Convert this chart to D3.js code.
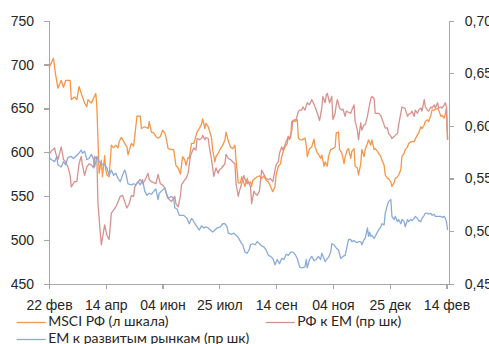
<!DOCTYPE html>
<html>
<head>
<meta charset="utf-8">
<script src="https://cdn.jsdelivr.net/npm/d3@7"></script>
<style>
  html, body { margin: 0; padding: 0; background: #fff; }
  svg { display: block; font-family: Lato, "Noto Sans", sans-serif; }
  .axis text, .legend text { font-size: 14px; fill: #262626; font-feature-settings: "onum" 1; }
  .axis path, .axis line { stroke: #a6a6a6; stroke-width: 1.3; shape-rendering: crispEdges; }
</style>
</head>
<body>
<svg id="chart" width="489" height="344"></svg>
<script>
// MSCI Russia index, left scale
const msciRussia = [
  ["2018-02-22",696],["2018-02-26",707],["2018-02-28",688],["2018-03-02",673],["2018-03-05",682],
  ["2018-03-07",674],["2018-03-09",682],["2018-03-13",682],["2018-03-14",660],["2018-03-17",663],
  ["2018-03-19",660],["2018-03-21",675],["2018-03-23",667],["2018-03-26",656],["2018-03-28",652],
  ["2018-03-29",660],["2018-04-01",656],["2018-04-05",667],["2018-04-06",652],["2018-04-08",576],
  ["2018-04-10",591],["2018-04-11",572],["2018-04-13",596],["2018-04-14",580],["2018-04-15",574],
  ["2018-04-17",572],["2018-04-19",608],["2018-04-21",605],["2018-04-23",608],["2018-04-25",605],
  ["2018-04-26",612],["2018-04-28",617],["2018-05-01",610],["2018-05-03",606],["2018-05-04",597],
  ["2018-05-06",606],["2018-05-07",610],["2018-05-09",607],["2018-05-10",618],["2018-05-12",641],
  ["2018-05-15",641],["2018-05-16",627],["2018-05-19",629],["2018-05-22",627],["2018-05-23",635],
  ["2018-05-25",623],["2018-05-27",622],["2018-05-29",618],["2018-05-31",616],["2018-06-02",618],
  ["2018-06-04",625],["2018-06-06",622],["2018-06-07",618],["2018-06-09",604],["2018-06-12",603],
  ["2018-06-14",603],["2018-06-16",585],["2018-06-18",582],["2018-06-20",575],["2018-06-22",595],
  ["2018-06-24",591],["2018-06-25",585],["2018-06-27",594],["2018-06-28",593],["2018-06-30",610],
  ["2018-07-02",610],["2018-07-03",614],["2018-07-05",623],["2018-07-07",627],["2018-07-09",632],
  ["2018-07-10",638],["2018-07-12",627],["2018-07-13",633],["2018-07-15",629],["2018-07-16",625],
  ["2018-07-18",616],["2018-07-19",603],["2018-07-21",589],["2018-07-22",595],["2018-07-24",599],
  ["2018-07-26",604],["2018-07-28",608],["2018-07-30",614],["2018-07-31",623],["2018-08-02",613],
  ["2018-08-04",606],["2018-08-06",604],["2018-08-08",608],["2018-08-09",591],["2018-08-11",565],
  ["2018-08-13",565],["2018-08-14",572],["2018-08-16",565],["2018-08-17",561],["2018-08-19",570],
  ["2018-08-20",565],["2018-08-22",566],["2018-08-23",561],["2018-08-24",568],["2018-08-26",570],
  ["2018-08-28",572],["2018-08-30",573],["2018-09-01",570],["2018-09-03",573],["2018-09-05",568],
  ["2018-09-07",566],["2018-09-09",561],["2018-09-11",555],["2018-09-13",561],["2018-09-14",574],
  ["2018-09-16",584],["2018-09-18",587],["2018-09-19",595],["2018-09-21",603],["2018-09-22",606],
  ["2018-09-24",610],["2018-09-25",618],["2018-09-27",616],["2018-09-28",635],["2018-09-30",636],
  ["2018-10-01",635],["2018-10-03",637],["2018-10-04",616],["2018-10-06",614],["2018-10-07",614],
  ["2018-10-10",616],["2018-10-11",608],["2018-10-12",595],["2018-10-14",604],["2018-10-16",606],
  ["2018-10-18",615],["2018-10-19",606],["2018-10-21",599],["2018-10-22",598],["2018-10-24",593],
  ["2018-10-25",597],["2018-10-27",584],["2018-10-28",589],["2018-10-30",584],["2018-10-31",595],
  ["2018-11-02",603],["2018-11-04",604],["2018-11-06",606],["2018-11-07",622],["2018-11-09",623],
  ["2018-11-10",603],["2018-11-12",599],["2018-11-14",587],["2018-11-15",595],["2018-11-17",603],
  ["2018-11-18",604],["2018-11-20",593],["2018-11-21",601],["2018-11-23",604],["2018-11-24",584],
  ["2018-11-26",582],["2018-11-27",574],["2018-11-29",587],["2018-11-30",603],["2018-12-02",595],
  ["2018-12-03",603],["2018-12-05",610],["2018-12-06",614],["2018-12-08",608],["2018-12-09",614],
  ["2018-12-11",603],["2018-12-12",604],["2018-12-14",601],["2018-12-15",599],["2018-12-17",595],
  ["2018-12-18",591],["2018-12-20",585],["2018-12-21",574],["2018-12-23",570],["2018-12-24",570],
  ["2018-12-26",566],["2018-12-27",561],["2018-12-29",565],["2018-12-30",570],["2019-01-01",572],
  ["2019-01-02",574],["2019-01-04",580],["2019-01-05",595],["2019-01-07",599],["2019-01-08",603],
  ["2019-01-10",606],["2019-01-11",610],["2019-01-13",612],["2019-01-14",612],["2019-01-16",612],
  ["2019-01-17",615],["2019-01-19",620],["2019-01-20",622],["2019-01-22",629],["2019-01-23",627],
  ["2019-01-25",631],["2019-01-26",635],["2019-01-28",637],["2019-01-29",635],["2019-01-31",642],
  ["2019-02-01",648],["2019-02-03",648],["2019-02-04",649],["2019-02-06",650],["2019-02-07",648],
  ["2019-02-09",641],["2019-02-10",642],["2019-02-12",639],["2019-02-13",644],["2019-02-14",650],
  ["2019-02-15",614]
];

// Russia relative to EM, right scale
const russiaVsEm = [
  ["2018-02-22",0.573],["2018-02-24",0.576],["2018-02-27",0.579],["2018-02-28",0.574],["2018-03-02",0.568],
  ["2018-03-05",0.580],["2018-03-07",0.568],["2018-03-09",0.566],["2018-03-11",0.561],["2018-03-13",0.553],
  ["2018-03-14",0.542],["2018-03-17",0.547],["2018-03-19",0.547],["2018-03-21",0.564],["2018-03-23",0.571],
  ["2018-03-24",0.563],["2018-03-26",0.553],["2018-03-28",0.561],["2018-03-30",0.564],["2018-04-01",0.563],
  ["2018-04-03",0.560],["2018-04-04",0.571],["2018-04-06",0.568],["2018-04-07",0.526],["2018-04-09",0.499],
  ["2018-04-10",0.487],["2018-04-13",0.506],["2018-04-15",0.496],["2018-04-17",0.492],["2018-04-19",0.517],
  ["2018-04-21",0.520],["2018-04-23",0.523],["2018-04-25",0.528],["2018-04-27",0.533],["2018-04-29",0.534],
  ["2018-05-01",0.528],["2018-05-03",0.522],["2018-05-05",0.526],["2018-05-07",0.534],["2018-05-09",0.533],
  ["2018-05-10",0.542],["2018-05-13",0.547],["2018-05-15",0.549],["2018-05-17",0.545],["2018-05-19",0.548],
  ["2018-05-22",0.555],["2018-05-23",0.549],["2018-05-25",0.547],["2018-05-27",0.546],["2018-05-29",0.545],
  ["2018-05-31",0.554],["2018-06-02",0.545],["2018-06-04",0.544],["2018-06-06",0.541],["2018-06-08",0.533],
  ["2018-06-10",0.530],["2018-06-12",0.528],["2018-06-15",0.533],["2018-06-16",0.526],["2018-06-18",0.523],
  ["2018-06-20",0.533],["2018-06-21",0.544],["2018-06-24",0.549],["2018-06-25",0.550],["2018-06-27",0.555],
  ["2018-06-29",0.571],["2018-06-30",0.574],["2018-07-02",0.579],["2018-07-04",0.577],["2018-07-05",0.588],
  ["2018-07-07",0.587],["2018-07-09",0.588],["2018-07-10",0.591],["2018-07-12",0.587],["2018-07-13",0.589],
  ["2018-07-15",0.588],["2018-07-16",0.580],["2018-07-18",0.568],["2018-07-20",0.552],["2018-07-22",0.560],
  ["2018-07-24",0.555],["2018-07-25",0.558],["2018-07-27",0.560],["2018-07-30",0.564],["2018-07-31",0.573],
  ["2018-08-02",0.569],["2018-08-04",0.568],["2018-08-06",0.566],["2018-08-08",0.564],["2018-08-09",0.545],
  ["2018-08-11",0.533],["2018-08-12",0.538],["2018-08-14",0.545],["2018-08-16",0.553],["2018-08-17",0.549],
  ["2018-08-19",0.545],["2018-08-20",0.547],["2018-08-22",0.542],["2018-08-23",0.526],["2018-08-25",0.538],
  ["2018-08-26",0.536],["2018-08-28",0.534],["2018-08-30",0.538],["2018-09-01",0.558],["2018-09-03",0.554],
  ["2018-09-05",0.550],["2018-09-07",0.549],["2018-09-09",0.550],["2018-09-11",0.547],["2018-09-13",0.558],
  ["2018-09-14",0.563],["2018-09-16",0.566],["2018-09-17",0.574],["2018-09-19",0.580],["2018-09-20",0.577],
  ["2018-09-22",0.582],["2018-09-23",0.585],["2018-09-25",0.590],["2018-09-26",0.587],["2018-09-28",0.595],
  ["2018-09-29",0.605],["2018-10-01",0.606],["2018-10-02",0.606],["2018-10-04",0.614],["2018-10-05",0.615],
  ["2018-10-07",0.615],["2018-10-08",0.618],["2018-10-10",0.615],["2018-10-11",0.619],["2018-10-12",0.622],
  ["2018-10-14",0.620],["2018-10-16",0.625],["2018-10-17",0.623],["2018-10-19",0.618],["2018-10-21",0.612],
  ["2018-10-23",0.605],["2018-10-25",0.617],["2018-10-26",0.628],["2018-10-28",0.622],["2018-10-29",0.629],
  ["2018-10-30",0.631],["2018-11-01",0.622],["2018-11-03",0.628],["2018-11-04",0.606],["2018-11-06",0.612],
  ["2018-11-07",0.620],["2018-11-08",0.625],["2018-11-10",0.617],["2018-11-12",0.615],["2018-11-13",0.616],
  ["2018-11-15",0.609],["2018-11-16",0.614],["2018-11-18",0.613],["2018-11-20",0.612],["2018-11-21",0.615],
  ["2018-11-23",0.620],["2018-11-24",0.604],["2018-11-26",0.596],["2018-11-27",0.587],["2018-11-29",0.603],
  ["2018-11-30",0.596],["2018-12-02",0.601],["2018-12-03",0.601],["2018-12-05",0.609],["2018-12-06",0.615],
  ["2018-12-08",0.626],["2018-12-09",0.628],["2018-12-11",0.626],["2018-12-12",0.612],["2018-12-14",0.612],
  ["2018-12-15",0.612],["2018-12-17",0.610],["2018-12-18",0.607],["2018-12-20",0.601],["2018-12-21",0.598],
  ["2018-12-23",0.598],["2018-12-24",0.593],["2018-12-26",0.590],["2018-12-27",0.588],["2018-12-29",0.590],
  ["2018-12-30",0.591],["2019-01-01",0.593],["2019-01-02",0.601],["2019-01-04",0.612],["2019-01-05",0.618],
  ["2019-01-07",0.617],["2019-01-08",0.616],["2019-01-10",0.609],["2019-01-11",0.611],["2019-01-13",0.612],
  ["2019-01-14",0.614],["2019-01-16",0.609],["2019-01-17",0.615],["2019-01-19",0.612],["2019-01-20",0.615],
  ["2019-01-22",0.617],["2019-01-23",0.614],["2019-01-25",0.625],["2019-01-26",0.618],["2019-01-28",0.615],
  ["2019-01-29",0.614],["2019-01-31",0.618],["2019-02-01",0.617],["2019-02-03",0.620],["2019-02-04",0.617],
  ["2019-02-06",0.622],["2019-02-07",0.617],["2019-02-09",0.618],["2019-02-10",0.617],["2019-02-12",0.620],
  ["2019-02-13",0.622],["2019-02-14",0.618],["2019-02-15",0.587]
];

// EM relative to developed markets, right scale
const emVsDeveloped = [
  ["2018-02-22",0.570],["2018-02-24",0.568],["2018-02-27",0.566],["2018-03-01",0.571],["2018-03-02",0.563],
  ["2018-03-05",0.561],["2018-03-07",0.566],["2018-03-09",0.563],["2018-03-11",0.570],["2018-03-14",0.571],
  ["2018-03-16",0.569],["2018-03-18",0.571],["2018-03-20",0.573],["2018-03-23",0.577],["2018-03-24",0.574],
  ["2018-03-26",0.576],["2018-03-28",0.568],["2018-03-30",0.569],["2018-04-01",0.573],["2018-04-03",0.568],
  ["2018-04-04",0.561],["2018-04-06",0.571],["2018-04-08",0.566],["2018-04-10",0.564],["2018-04-13",0.563],
  ["2018-04-15",0.560],["2018-04-17",0.553],["2018-04-19",0.558],["2018-04-21",0.553],["2018-04-23",0.555],
  ["2018-04-25",0.550],["2018-04-27",0.547],["2018-04-29",0.553],["2018-05-01",0.558],["2018-05-02",0.555],
  ["2018-05-04",0.545],["2018-05-07",0.544],["2018-05-09",0.545],["2018-05-11",0.544],["2018-05-13",0.547],
  ["2018-05-15",0.544],["2018-05-17",0.549],["2018-05-19",0.538],["2018-05-21",0.534],["2018-05-23",0.536],
  ["2018-05-25",0.535],["2018-05-28",0.539],["2018-05-29",0.540],["2018-05-31",0.530],["2018-06-01",0.536],
  ["2018-06-03",0.538],["2018-06-06",0.541],["2018-06-07",0.538],["2018-06-09",0.531],["2018-06-12",0.533],
  ["2018-06-14",0.531],["2018-06-15",0.522],["2018-06-17",0.521],["2018-06-19",0.515],["2018-06-21",0.515],
  ["2018-06-23",0.515],["2018-06-24",0.514],["2018-06-26",0.512],["2018-06-28",0.507],["2018-06-30",0.512],
  ["2018-07-01",0.511],["2018-07-03",0.507],["2018-07-05",0.504],["2018-07-07",0.501],["2018-07-09",0.505],
  ["2018-07-11",0.503],["2018-07-13",0.504],["2018-07-15",0.503],["2018-07-17",0.501],["2018-07-19",0.499],
  ["2018-07-21",0.501],["2018-07-23",0.503],["2018-07-26",0.504],["2018-07-28",0.507],["2018-07-30",0.507],
  ["2018-08-01",0.504],["2018-08-02",0.498],["2018-08-05",0.497],["2018-08-07",0.498],["2018-08-09",0.496],
  ["2018-08-11",0.494],["2018-08-13",0.490],["2018-08-15",0.487],["2018-08-17",0.480],["2018-08-19",0.479],
  ["2018-08-21",0.483],["2018-08-22",0.487],["2018-08-24",0.488],["2018-08-26",0.487],["2018-08-28",0.490],
  ["2018-08-30",0.488],["2018-09-01",0.486],["2018-09-03",0.485],["2018-09-05",0.482],["2018-09-07",0.477],
  ["2018-09-09",0.476],["2018-09-11",0.474],["2018-09-13",0.468],["2018-09-15",0.473],["2018-09-17",0.469],
  ["2018-09-19",0.474],["2018-09-21",0.473],["2018-09-23",0.478],["2018-09-25",0.477],["2018-09-27",0.480],
  ["2018-09-29",0.480],["2018-10-01",0.478],["2018-10-03",0.474],["2018-10-05",0.466],["2018-10-07",0.465],
  ["2018-10-10",0.466],["2018-10-11",0.473],["2018-10-12",0.465],["2018-10-14",0.473],["2018-10-16",0.476],
  ["2018-10-18",0.472],["2018-10-20",0.473],["2018-10-22",0.476],["2018-10-24",0.473],["2018-10-25",0.479],
  ["2018-10-27",0.474],["2018-10-28",0.471],["2018-10-30",0.474],["2018-10-31",0.475],["2018-11-02",0.480],
  ["2018-11-03",0.488],["2018-11-05",0.487],["2018-11-07",0.484],["2018-11-09",0.482],["2018-11-11",0.474],
  ["2018-11-13",0.476],["2018-11-15",0.477],["2018-11-17",0.487],["2018-11-18",0.492],["2018-11-20",0.492],
  ["2018-11-21",0.490],["2018-11-23",0.491],["2018-11-24",0.490],["2018-11-26",0.489],["2018-11-27",0.490],
  ["2018-11-29",0.490],["2018-11-30",0.487],["2018-12-02",0.492],["2018-12-03",0.493],["2018-12-05",0.503],
  ["2018-12-06",0.495],["2018-12-07",0.499],["2018-12-08",0.495],["2018-12-09",0.496],["2018-12-11",0.493],
  ["2018-12-12",0.495],["2018-12-14",0.499],["2018-12-15",0.501],["2018-12-17",0.504],["2018-12-18",0.507],
  ["2018-12-20",0.506],["2018-12-21",0.517],["2018-12-23",0.525],["2018-12-24",0.528],["2018-12-26",0.530],
  ["2018-12-27",0.514],["2018-12-29",0.511],["2018-12-30",0.514],["2019-01-01",0.509],["2019-01-02",0.511],
  ["2019-01-04",0.507],["2019-01-05",0.511],["2019-01-07",0.509],["2019-01-08",0.504],["2019-01-10",0.511],
  ["2019-01-11",0.509],["2019-01-13",0.511],["2019-01-14",0.510],["2019-01-16",0.512],["2019-01-17",0.514],
  ["2019-01-19",0.512],["2019-01-20",0.510],["2019-01-22",0.509],["2019-01-23",0.512],["2019-01-25",0.515],
  ["2019-01-26",0.517],["2019-01-28",0.517],["2019-01-29",0.516],["2019-01-31",0.517],["2019-02-01",0.515],
  ["2019-02-03",0.516],["2019-02-04",0.514],["2019-02-06",0.514],["2019-02-07",0.514],["2019-02-09",0.514],
  ["2019-02-10",0.513],["2019-02-12",0.514],["2019-02-13",0.512],["2019-02-14",0.509],["2019-02-15",0.501]
];

const leftTicks = [450, 500, 550, 600, 650, 700, 750];
const rightTicks = [0.45, 0.50, 0.55, 0.60, 0.65, 0.70];
const dateTicks = ["2018-02-22", "2018-04-14", "2018-06-04", "2018-07-25",
                   "2018-09-14", "2018-11-04", "2018-12-25", "2019-02-14"];
const dateRange = ["2018-02-22", "2019-02-16"];
const monthNames = ["янв", "фев", "мар", "апр", "май", "июн",
                    "июл", "авг", "сен", "окт", "ноя", "дек"];
const seriesNames = ["MSCI РФ (л шкала)", "РФ к EM (пр шк)", "EM к развитым рынкам (пр шк)"];

const parse = d3.timeParse("%Y-%m-%d");
const svg = d3.select("#chart");

const plot = { left: 49, right: 448.7, top: 20.7, bottom: 283.7 };

const x = d3.scaleTime().domain(dateRange.map(parse)).range([plot.left, plot.right]);
const yLeft = d3.scaleLinear().domain([450, 750]).range([plot.bottom, plot.top]);
const yRight = d3.scaleLinear().domain([0.45, 0.70]).range([plot.bottom, plot.top]);

const colors = ["#f79646", "#d9918d", "#8aabd9"];

// axes
svg.append("g").attr("class", "axis")
  .attr("transform", `translate(${plot.left},0)`)
  .call(d3.axisLeft(yLeft).tickValues(leftTicks).tickSize(5).tickSizeOuter(0).tickPadding(10)
    .tickFormat(d3.format("d")));

svg.append("g").attr("class", "axis")
  .attr("transform", `translate(${plot.right},0)`)
  .call(d3.axisRight(yRight).tickValues(rightTicks).tickSize(5).tickSizeOuter(0).tickPadding(11)
    .tickFormat(d => d3.format(".2f")(d).replace(".", ",")));

svg.append("g").attr("class", "axis")
  .attr("transform", `translate(0,${plot.bottom})`)
  .call(d3.axisBottom(x).tickValues(dateTicks.map(parse)).tickSize(5).tickSizeOuter(0).tickPadding(11)
    .tickFormat(d => d3.timeFormat("%d")(d) + " " + monthNames[d.getMonth()]));

// series lines
const lineLeft = d3.line().x(d => x(parse(d[0]))).y(d => yLeft(d[1]));
const lineRight = d3.line().x(d => x(parse(d[0]))).y(d => yRight(d[1]));

svg.append("path").datum(msciRussia)
  .attr("fill", "none").attr("stroke", colors[0]).attr("stroke-width", 1.3)
  .attr("stroke-linejoin", "round").attr("d", lineLeft);
svg.append("path").datum(russiaVsEm)
  .attr("fill", "none").attr("stroke", colors[1]).attr("stroke-width", 1.3)
  .attr("stroke-linejoin", "round").attr("d", lineRight);
svg.append("path").datum(emVsDeveloped)
  .attr("fill", "none").attr("stroke", colors[2]).attr("stroke-width", 1.3)
  .attr("stroke-linejoin", "round").attr("d", lineRight);

// legend
const legendItems = [
  { name: seriesNames[0], color: colors[0], x: 16.7, y: 322.5 },
  { name: seriesNames[1], color: colors[1], x: 265.7, y: 322.5 },
  { name: seriesNames[2], color: colors[2], x: 16.7, y: 339.5 }
];
const legend = svg.append("g").attr("class", "legend");
legendItems.forEach(item => {
  legend.append("line")
    .attr("x1", item.x).attr("x2", item.x + 29)
    .attr("y1", item.y).attr("y2", item.y)
    .attr("stroke", item.color).attr("stroke-width", 1.3);
  legend.append("text")
    .attr("x", item.x + 31.5).attr("y", item.y + 3.5)
    .text(item.name);
});
</script>
</body>
</html>
